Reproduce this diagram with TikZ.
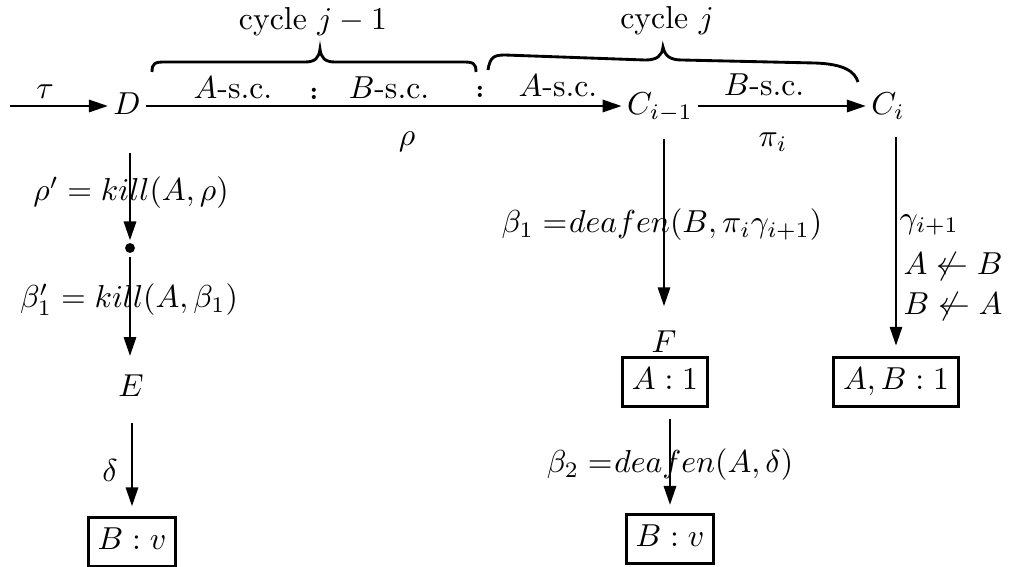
\documentclass[tikz,border=0pt]{standalone}
\usetikzlibrary{arrows.meta}
\begin{document}
\begin{tikzpicture}[x=0.315pt,y=-0.315pt,
  arr/.style={line width=0.9pt,-{Triangle[length=6pt,width=3.8pt]}},
  brc/.style={line width=0.9pt},
  hnode/.style={inner sep=1.5pt,text height=1.6ex,text depth=0.35ex},
  vnode/.style={inner sep=3pt},
  lbl/.style={inner sep=0pt},
  boxnode/.style={draw,line width=1pt,inner sep=3pt,text height=7.2pt,text depth=2.2pt},
  colonnode/.style={inner sep=0pt,font=\footnotesize\bfseries}]
\useasboundingbox (0,0) rectangle (1011,567);

% top row
\coordinate (t0) at (10,106);
\node[hnode] (D) at (127,106) {$D$};
\node[hnode] (Cim) at (660,106) {$C_{i-1}$};
\node[hnode] (Ci) at (888,106) {$C_i$};
\draw[arr] (t0) -- (D);
\draw[arr] (D) -- (Cim);
\draw[arr] (Cim) -- (Ci);

\node[lbl] (tau) at (45,92) {$\tau$};
\node[lbl,anchor=base] (as1) at (233,98) {$A$-s.c.};
\node[lbl,anchor=base] (bs1) at (389,98) {$B$-s.c.};
\node[lbl,anchor=base] (as2) at (558,96) {$A$-s.c.};
\node[lbl,anchor=base] (bs2) at (764,95) {$B$-s.c.};
\node[colonnode] (c1) at (314,94) {:};
\node[colonnode] (c2) at (480,92) {:};
\node[lbl] (rho) at (407,142) {$\rho$};
\node[lbl] (pii) at (773,142) {$\pi_i$};

% braces
\draw[brc] (152,72) .. controls (152,63) and (155,62) .. (165,62) -- (305,62)
  .. controls (315,62) and (319,58) .. (320,49)
  .. controls (321,58) and (325,62) .. (335,62) -- (463,62)
  .. controls (473,62) and (476,63) .. (476,72);
\node[lbl,anchor=base] (cyc1) at (313,29) {cycle $j-1$};
\draw[brc] (488,70) .. controls (490,57) and (494,55) .. (505,55) -- (645,60)
  .. controls (657,60) and (662,56) .. (663,47)
  .. controls (665,56) and (670,60) .. (682,60) -- (815,63)
  .. controls (845,64) and (855,72) .. (858,82);
\node[lbl,anchor=base] (cyc2) at (667,28) {cycle $j$};

% left column
\node[circle,fill,inner sep=1.1pt] (dot) at (130,248) {};
\node[vnode] (E) at (131,386) {$E$};
\node[boxnode] (Bv1) at (132,542) {$B:v$};
\draw[arr,shorten <=9pt,shorten >=0.6pt] (D.south -| dot.north) -- (dot.north);
\draw[arr,shorten <=1pt,shorten >=2.8pt] (dot.south) -- (E.north -| dot.south);
\draw[arr,shorten <=5pt,shorten >=3pt] (E.south -| Bv1.north) -- (Bv1.north);
\node[lbl] (l1) at (131,193) {$\rho' = kill(A,\rho)$};
\node[lbl] (l2) at (129,300) {$\beta_1' = kill(A,\beta_1)$};
\node[lbl] (l3) at (110,470) {$\delta$};

% middle column
\node[vnode] (F) at (664,342) {$F$};
\node[boxnode] (A1) at (665,382) {$A:1$};
\node[boxnode] (Bv2) at (670,539) {$B:v$};
\draw[arr,shorten <=4.4pt,shorten >=4.6pt] (Cim.south -| F.north) -- (F.north);
\draw[arr,shorten <=3.5pt,shorten >=2.5pt] (A1.south -| Bv2.north) -- (Bv2.north);
\node[lbl] (l4) at (662,225) {$\beta_1 \mathrel{=}\mkern-4mu deafen(B,\pi_i\gamma_{i+1})$};
\node[lbl] (l5) at (670,465) {$\beta_2 \mathrel{=}\mkern-4mu deafen(A,\delta)$};

% right column
\node[boxnode] (AB1) at (896,382) {$A,B:1$};
\draw[arr,shorten <=4pt,shorten >=3.2pt] (Ci.south -| AB1.north) -- (AB1.north);
\node[lbl,anchor=west] (l6) at (899,225) {$\gamma_{i+1}$};
\node[lbl,anchor=west] (l7) at (903,267) {$A \not\leftarrow B$};
\node[lbl,anchor=west] (l8) at (903,307) {$B \not\leftarrow A$};
\end{tikzpicture}
\end{document}
